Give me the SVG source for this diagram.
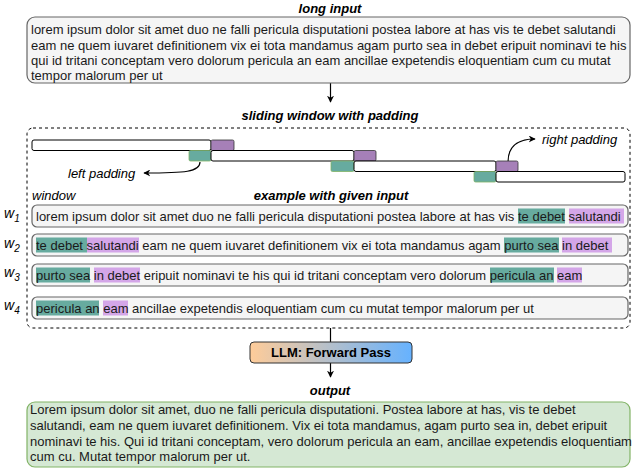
<svg xmlns="http://www.w3.org/2000/svg" width="632" height="470" viewBox="0 0 632 470">
<style>
text{font-family:"Liberation Sans",Arial,sans-serif;font-size:13px;fill:#1a1a1a}
.t{font-weight:bold;font-style:italic;text-anchor:middle;fill:#000}
.it{font-style:italic;fill:#000}
.box{fill:#f5f5f5;stroke:#666;stroke-width:1.2}
.bar{fill:#fff;stroke:#000;stroke-width:1}
.pp{fill:#a680b8;stroke:#333;stroke-width:0.8}
.tp{fill:#67ab9f;stroke:#82b366;stroke-width:0.8}
.ht{fill:#67ab9f}
.hp{fill:#d4a6e8}
.ln{fill:none;stroke:#000;stroke-width:1.2}
.w{font-style:italic;font-size:14px;fill:#000}
.ws{font-size:10px}
</style>
<defs>
<marker id="ah" viewBox="0 0 10 10" refX="9" refY="5" markerWidth="7" markerHeight="7" markerUnits="userSpaceOnUse" orient="auto">
<path d="M0,0 L10,5 L0,10 L3,5 Z" fill="#000"/>
</marker>
<linearGradient id="g" x1="0" y1="0" x2="1" y2="0">
<stop offset="0" stop-color="#ffcc99"/>
<stop offset="1" stop-color="#66b2ff"/>
</linearGradient>
</defs>

<g id="connectors">
<path class="ln" d="M330.5,83 V102" marker-end="url(#ah)"/>
<path class="ln" d="M330.5,328 V342"/>
<path class="ln" d="M330.5,363 V377" marker-end="url(#ah)"/>
<path class="ln" d="M200,162 C200,172 185,173 144,173" marker-end="url(#ah)"/>
<path class="ln" d="M508,162 C508,148 515,139 535,139" marker-end="url(#ah)"/>
</g>

<g id="long-input">
<text class="t" x="330" y="13">long input</text>
<rect class="box" x="27" y="17" width="603" height="66" rx="8"/>
<text x="31" y="34">lorem ipsum dolor sit amet duo ne falli pericula disputationi postea labore at has vis te debet salutandi</text>
<text x="31" y="49.5">eam ne quem iuvaret definitionem vix ei tota mandamus agam purto sea in debet eripuit nominavi te his</text>
<text x="31" y="65">qui id tritani conceptam vero dolorum pericula an eam ancillae expetendis eloquentiam cum cu mutat</text>
<text x="31" y="80">tempor malorum per ut</text>
</g>

<g id="sliding-window">
<text class="t" x="330" y="120">sliding window with padding</text>
<rect x="27" y="128" width="603" height="200" rx="6" fill="none" stroke="#000" stroke-width="1" stroke-dasharray="3 3"/>
<rect class="bar" x="32" y="140" width="179" height="10.5" rx="2"/>
<rect class="pp" x="211" y="140" width="23" height="10.5" rx="1.5"/>
<rect class="tp" x="189" y="150.5" width="22" height="10.5" rx="1.5"/>
<rect class="bar" x="211" y="150.5" width="143" height="10.5" rx="2"/>
<rect class="pp" x="354" y="150.5" width="22" height="10.5" rx="1.5"/>
<rect class="tp" x="331" y="161" width="23" height="10.5" rx="1.5"/>
<rect class="bar" x="354" y="161" width="142" height="10.5" rx="2"/>
<rect class="pp" x="496" y="161" width="22" height="10.5" rx="1.5"/>
<rect class="tp" x="474" y="171.5" width="22" height="10.5" rx="1.5"/>
<rect class="bar" x="496" y="171.5" width="129" height="10.5" rx="2"/>
<text class="it" x="68" y="178">left padding</text>
<text class="it" x="542" y="144">right padding</text>
<text class="it" x="32" y="200">window</text>
<text class="t" x="331" y="200">example with given input</text>
</g>

<g id="w1">
<text class="w" x="4" y="218">w<tspan class="ws" dy="4">1</tspan></text>
<rect class="box" x="32" y="205" width="596" height="22" rx="5"/>
<rect class="ht" x="518" y="208.5" width="47" height="15"/>
<rect class="hp" x="569" y="208.5" width="55" height="15"/>
<text x="36" y="220.5">lorem ipsum dolor sit amet duo ne falli pericula disputationi postea labore at has vis te debet salutandi</text>
</g>
<g id="w2">
<text class="w" x="4" y="248">w<tspan class="ws" dy="4">2</tspan></text>
<rect class="box" x="32" y="234" width="596" height="22" rx="5"/>
<rect class="ht" x="36" y="237.5" width="51" height="15"/>
<rect class="hp" x="87" y="237.5" width="52" height="15"/>
<rect class="ht" x="504" y="237.5" width="55" height="15"/>
<rect class="hp" x="562" y="237.5" width="50" height="15"/>
<text x="36" y="249.5">te debet salutandi eam ne quem iuvaret definitionem vix ei tota mandamus agam purto sea in debet</text>
</g>
<g id="w3">
<text class="w" x="4" y="277">w<tspan class="ws" dy="4">3</tspan></text>
<rect class="box" x="32" y="264" width="596" height="22" rx="5"/>
<rect class="ht" x="36" y="267.5" width="54" height="15"/>
<rect class="hp" x="94" y="267.5" width="46" height="15"/>
<rect class="ht" x="490" y="267.5" width="64" height="15"/>
<rect class="hp" x="557" y="267.5" width="25" height="15"/>
<text x="36" y="279.5">purto sea in debet eripuit nominavi te his qui id tritani conceptam vero dolorum pericula an eam</text>
</g>
<g id="w4">
<text class="w" x="4" y="310">w<tspan class="ws" dy="4">4</tspan></text>
<rect class="box" x="32" y="297" width="596" height="22" rx="5"/>
<rect class="ht" x="36" y="300.5" width="63" height="15"/>
<rect class="hp" x="103" y="300.5" width="25" height="15"/>
<text x="36" y="312.5">pericula an eam ancillae expetendis eloquentiam cum cu mutat tempor malorum per ut</text>
</g>

<g id="llm">
<rect x="250" y="342" width="162" height="21" rx="4" fill="url(#g)" stroke="#333" stroke-width="1"/>
<text x="331" y="357" text-anchor="middle" font-weight="bold" style="fill:#000">LLM: Forward Pass</text>
</g>

<g id="output">
<text class="t" x="330" y="395">output</text>
<rect x="27" y="402" width="603" height="65" rx="8" fill="#d5e8d4" stroke="#82b366" stroke-width="1.2"/>
<text x="30" y="414">Lorem ipsum dolor sit amet, duo ne falli pericula disputationi. Postea labore at has, vis te debet</text>
<text x="30" y="430">salutandi, eam ne quem iuvaret definitionem. Vix ei tota mandamus, agam purto sea in, debet eripuit</text>
<text x="30" y="445.5">nominavi te his. Qui id tritani conceptam, vero dolorum pericula an eam, ancillae expetendis eloquentiam</text>
<text x="30" y="461">cum cu. Mutat tempor malorum per ut.</text>
</g>
</svg>
